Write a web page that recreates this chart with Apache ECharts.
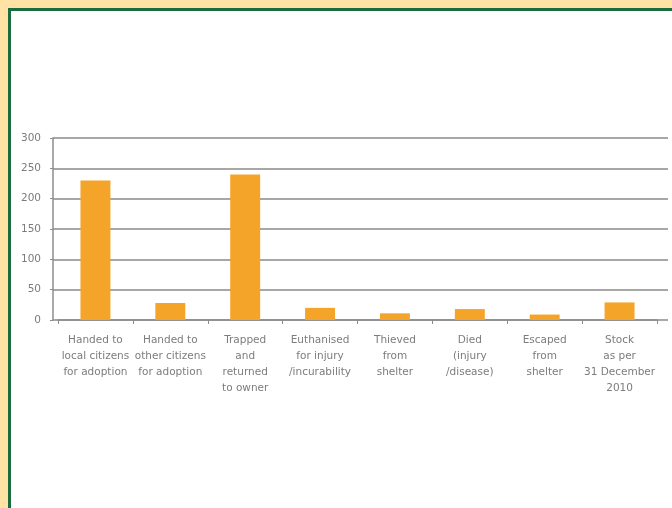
<!DOCTYPE html>
<html>
<head>
<meta charset="utf-8">
<script src="https://cdn.jsdelivr.net/npm/echarts@6/dist/echarts.min.js"></script>
<style>
html,body{margin:0;padding:0;width:672px;height:508px;overflow:hidden;background:#FFE2A4;}
#frame{position:absolute;left:8px;top:8px;width:700px;height:520px;border-left:3px solid #1C6B3E;border-top:3px solid #1C6B3E;background:#fff;}
#c{position:absolute;left:0;top:0;width:672px;height:508px;}
</style>
</head>
<body>
<div id="frame"></div>
<div id="c"></div>
<script>
const categories = [
  "Handed to\nlocal citizens\nfor adoption",
  "Handed to\nother citizens\nfor adoption",
  "Trapped\nand\nreturned\nto owner",
  "Euthanised\nfor injury\n/incurability",
  "Thieved\nfrom\nshelter",
  "Died\n(injury\n/disease)",
  "Escaped\nfrom\nshelter",
  "Stock\nas per\n31 December\n2010"
];
const values = [230, 28, 240, 20, 11, 18, 9, 29];
const yTicks = [0, 50, 100, 150, 200, 250, 300];

const chart = echarts.init(document.getElementById('c'), null, {renderer: 'canvas'});
const yMin = yTicks[0], yMax = yTicks[yTicks.length - 1], yStep = yTicks[1] - yTicks[0];
chart.setOption({
  animation: false,
  backgroundColor: 'transparent',
  grid: [
    {left: 53, right: 4, top: 138, bottom: 188},
    {left: 58, right: 15, top: 138, bottom: 188}
  ],
  xAxis: [
    {gridIndex: 0, type: 'value', show: false},
    {gridIndex: 1, type: 'category', data: categories,
      axisLine: {show: true, lineStyle: {color: '#8c8c8c', width: 1.5}},
      axisTick: {show: true, alignWithLabel: false, length: 4, lineStyle: {color: '#8c8c8c'}},
      axisLabel: {interval: 0, margin: 12, fontFamily: 'DejaVu Sans', fontSize: 10.5, lineHeight: 16, color: '#7c7c7c'}
    }
  ],
  yAxis: [
    {gridIndex: 0, type: 'value', min: yMin, max: yMax, interval: yStep,
      axisLine: {show: true, lineStyle: {color: '#8c8c8c', width: 1.5}},
      axisTick: {show: true, length: 3, lineStyle: {color: '#8c8c8c'}},
      axisLabel: {margin: 12, fontFamily: 'DejaVu Sans', fontSize: 10.5, color: '#7c7c7c'},
      splitLine: {show: true, lineStyle: {color: '#8a8a8a', width: 1.5}}
    },
    {gridIndex: 1, type: 'value', min: yMin, max: yMax, interval: yStep, show: false, splitLine: {show: false}}
  ],
  series: [{
    type: 'bar',
    xAxisIndex: 1,
    yAxisIndex: 1,
    data: values,
    barWidth: '40%',
    itemStyle: {color: '#F5A42A'}
  }]
});
</script>
</body>
</html>
